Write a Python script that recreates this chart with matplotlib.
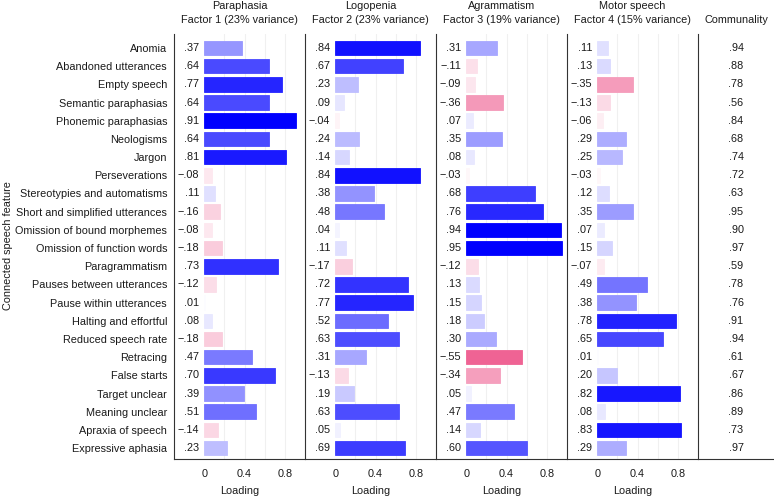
import matplotlib
matplotlib.use("Agg")
import matplotlib.pyplot as plt
import numpy as np

plt.rcParams['font.family'] = ['Liberation Sans', 'DejaVu Sans']

features = ["Anomia", "Abandoned utterances", "Empty speech", "Semantic paraphasias",
            "Phonemic paraphasias", "Neologisms", "Jargon", "Perseverations",
            "Stereotypies and automatisms", "Short and simplified utterances",
            "Omission of bound morphemes", "Omission of function words", "Paragrammatism",
            "Pauses between utterances", "Pause within utterances", "Halting and effortful",
            "Reduced speech rate", "Retracing", "False starts", "Target unclear",
            "Meaning unclear", "Apraxia of speech", "Expressive aphasia"]

factor1 = [.37, .64, .77, .64, .91, .64, .81, -.08, .11, -.16, -.08, -.18, .73,
           -.12, .01, .08, -.18, .47, .70, .39, .51, -.14, .23]
factor2 = [.84, .67, .23, .09, -.04, .24, .14, .84, .38, .48, .04, .11, -.17,
           .72, .77, .52, .63, .31, -.13, .19, .63, .05, .69]
factor3 = [.31, -.11, -.09, -.36, .07, .35, .08, -.03, .68, .76, .94, .95, -.12,
           .13, .15, .18, .30, -.55, -.34, .05, .47, .14, .60]
factor4 = [.11, .13, -.35, -.13, -.06, .29, .25, -.03, .12, .35, .07, .15, -.07,
           .49, .38, .78, .65, .01, .20, .82, .08, .83, .29]
communality = [.94, .88, .78, .56, .84, .68, .74, .72, .63, .95, .90, .97, .59,
               .78, .76, .91, .94, .61, .67, .86, .89, .73, .97]

factor_names = ["Paraphasia", "Logopenia", "Agrammatism", "Motor speech"]
factor_subtitles = ["Factor 1 (23% variance)", "Factor 2 (23% variance)",
                    "Factor 3 (19% variance)", "Factor 4 (15% variance)"]
factors = [factor1, factor2, factor3, factor4]

W, H = 774, 497
fig = plt.figure(figsize=(W / 100, H / 100), dpi=100)

FS = 7.8
TXT = "#1a1a1a"
top_px, bot_px = 34, 459
panel_lefts = [174, 305, 436, 567]
panel_w = 131
n = len(features)
ypos = np.arange(n)

POS = np.array([0, 0, 255]) / 255.0
NEG = np.array([228, 0, 80]) / 255.0
WHITE = np.array([1.0, 1.0, 1.0])


def colour(v):
    t = min(abs(v) / 0.9, 1.0)
    c = POS if v >= 0 else NEG
    return tuple(WHITE * (1 - t) + c * t)


def fmt(v):
    s = f"{abs(v):.2f}".lstrip("0")
    return ("\u2212" if v < 0 else "") + s


spine_col = "#333333"


def make_ax(left, width):
    return fig.add_axes([left / W, 1 - bot_px / H, width / W, (bot_px - top_px) / H])


for k, (vals, name, sub) in enumerate(zip(factors, factor_names, factor_subtitles)):
    ax = make_ax(panel_lefts[k], panel_w)
    ax.set_xlim(-0.3, 1.0)
    ax.set_ylim(n - 1 + 0.6, -0.77)
    for g in [0.2, 0.4, 0.6, 0.8]:
        ax.axvline(g, color="#f0f0f0", lw=0.8, zorder=0)
    cols = [colour(v) for v in vals]
    ax.barh(ypos, np.abs(vals), height=0.8, color=cols, edgecolor=cols,
            linewidth=0.6, zorder=2)
    for y, v in zip(ypos, vals):
        ax.text(-0.05, y, fmt(v), ha="right", va="center", fontsize=FS, color=TXT)
    for s in ["top", "right"]:
        ax.spines[s].set_visible(False)
    ax.spines["left"].set_color(spine_col)
    ax.spines["bottom"].set_color(spine_col)
    ax.set_xticks([0, 0.4, 0.8])
    ax.set_xticklabels(["0", "0.4", "0.8"], fontsize=FS, color=TXT)
    ax.tick_params(axis="x", length=0, pad=7)
    ax.set_xlabel("Loading", fontsize=FS, labelpad=5, color=TXT)
    if k == 0:
        ax.set_yticks(ypos)
        ax.set_yticklabels(features, fontsize=FS, color=TXT)
        ax.tick_params(axis="y", length=0, pad=5)
    else:
        ax.set_yticks([])
    cx = (panel_lefts[k] + panel_w / 2) / W
    fig.text(cx, 1 - 6 / H, name, ha="center", va="center", fontsize=FS, color=TXT)
    fig.text(cx, 1 - 20 / H, sub, ha="center", va="center", fontsize=FS, color=TXT)

# Communality column
cl = 698
axc = make_ax(cl, W - cl)
axc.set_xlim(0, 1)
axc.set_ylim(n - 1 + 0.6, -0.77)
for y, v in zip(ypos, communality):
    axc.text(0.5, y, fmt(v), ha="center", va="center", fontsize=FS, color=TXT)
axc.set_xticks([])
axc.set_yticks([])
for s in ["top", "right"]:
    axc.spines[s].set_visible(False)
axc.spines["left"].set_color(spine_col)
axc.spines["bottom"].set_color(spine_col)
fig.text((cl + (W - cl) / 2) / W, 1 - 20 / H, "Communality", ha="center", va="center",
         fontsize=FS, color=TXT)

fig.text(8 / W, 1 - 246 / H, "Connected speech feature", rotation=90,
         ha="center", va="center", fontsize=FS, color=TXT)

fig.savefig("out.png", dpi=100)
